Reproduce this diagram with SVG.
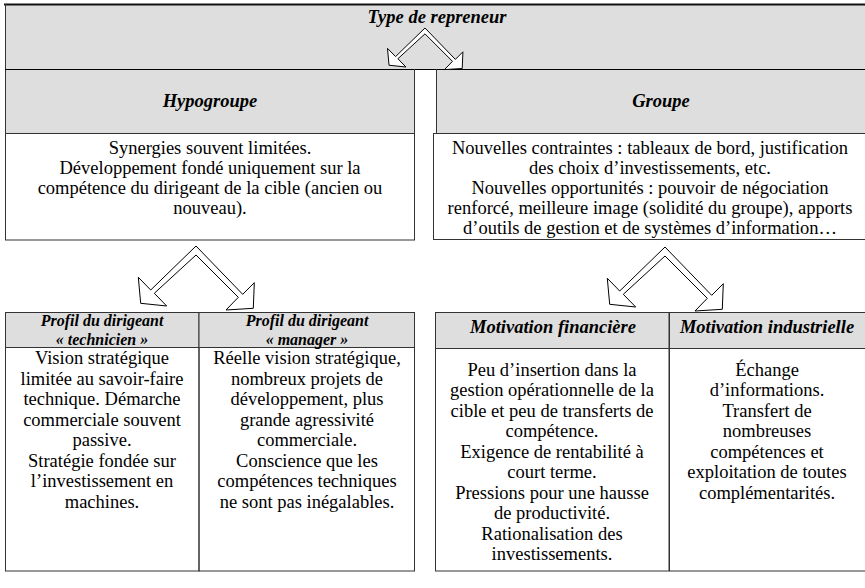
<svg xmlns="http://www.w3.org/2000/svg" width="865" height="588" viewBox="0 0 865 588">
<style>
.bg{fill:#ffffff}
.gray{fill:#dedede;stroke:none}
.box{fill:#ffffff;stroke:#333333;stroke-width:1}
.frame{fill:none;stroke:#333333;stroke-width:1}
.line{stroke:#333333;stroke-width:1;fill:none}
.arrow{fill:#ffffff;stroke:#000000;stroke-width:1;stroke-linejoin:miter}
text{font-family:"Liberation Serif","Times New Roman",serif;font-size:18.5px;fill:#000000;text-anchor:middle}
.h{font-weight:bold;font-style:italic}
.hs{font-size:16px}
</style>
<defs>
<path id="chev" d="M196,246 L242.7,294.3 L254.3,282.7 L253.3,308.3 L226,310 L238.3,297.3 L196,255 L154.3,293.3 L166.7,306 L140.7,303.3 L138.3,277.3 L150.7,290 Z"/>
</defs>
<rect class="bg" x="0" y="0" width="865" height="588"/>

<g id="type-de-repreneur">
<rect class="gray" x="5" y="5" width="860" height="64"/>
<line x1="4" y1="4.5" x2="865" y2="4.5" stroke="#111" stroke-width="2.2"/>
<line class="line" x1="5.5" y1="4" x2="5.5" y2="134"/>
<line x1="5" y1="69.5" x2="865" y2="69.5" stroke="#000" stroke-width="1.2"/>
<text class="h" x="437" y="23">Type de repreneur</text>
</g>

<g id="hypogroupe">
<rect class="gray" x="6" y="70" width="408" height="64"/>
<line class="line" x1="414.5" y1="69" x2="414.5" y2="134"/>
<text class="h" x="210" y="107">Hypogroupe</text>
<rect class="box" x="5.5" y="133.5" width="409" height="106.5"/>
<text x="210" y="154">Synergies souvent limitées.</text>
<text x="210" y="174">Développement fondé uniquement sur la</text>
<text x="210" y="194">compétence du dirigeant de la cible (ancien ou</text>
<text x="210" y="214">nouveau).</text>
</g>

<g id="groupe">
<rect class="gray" x="436" y="70" width="429" height="64"/>
<line class="line" x1="436.5" y1="69" x2="436.5" y2="134"/>
<text class="h" x="661" y="107">Groupe</text>
<rect class="box" x="433.5" y="133.5" width="440" height="106"/>
<text x="650" y="154">Nouvelles contraintes : tableaux de bord, justification</text>
<text x="650" y="174">des choix d’investissements, etc.</text>
<text x="650" y="194">Nouvelles opportunités : pouvoir de négociation</text>
<text x="650" y="214">renforcé, meilleure image (solidité du groupe), apports</text>
<text x="650" y="234">d’outils de gestion et de systèmes d’information…</text>
</g>

<g id="profil-technicien">
<rect class="gray" x="5.5" y="312.5" width="193.5" height="35"/>
<rect class="frame" x="5.5" y="312.5" width="193.5" height="258.5"/>
<line class="line" x1="5.5" y1="347.5" x2="199" y2="347.5"/>
<text class="h hs" x="102" y="326">Profil du dirigeant</text>
<text class="h hs" x="102" y="344.5">« technicien »</text>
<text x="102" y="364">Vision stratégique</text>
<text x="102" y="384.5">limitée au savoir-faire</text>
<text x="102" y="405">technique. Démarche</text>
<text x="102" y="425.5">commerciale souvent</text>
<text x="102" y="446">passive.</text>
<text x="102" y="466.5">Stratégie fondée sur</text>
<text x="102" y="487">l’investissement en</text>
<text x="102" y="507.5">machines.</text>
</g>

<g id="profil-manager">
<rect class="gray" x="199" y="312.5" width="215.5" height="35"/>
<rect class="frame" x="199" y="312.5" width="215.5" height="258.5"/>
<line class="line" x1="199" y1="347.5" x2="414.5" y2="347.5"/>
<text class="h hs" x="307" y="326">Profil du dirigeant</text>
<text class="h hs" x="307" y="344.5">« manager »</text>
<text x="307" y="364">Réelle vision stratégique,</text>
<text x="307" y="384.5">nombreux projets de</text>
<text x="307" y="405">développement, plus</text>
<text x="307" y="425.5">grande agressivité</text>
<text x="307" y="446">commerciale.</text>
<text x="307" y="466.5">Conscience que les</text>
<text x="307" y="487">compétences techniques</text>
<text x="307" y="507.5">ne sont pas inégalables.</text>
</g>

<g id="motivation-financiere">
<rect class="gray" x="435.5" y="312.5" width="233.5" height="36"/>
<rect class="frame" x="435.5" y="312.5" width="233.5" height="258.5"/>
<line class="line" x1="435.5" y1="348.5" x2="669" y2="348.5"/>
<text class="h" x="553" y="333">Motivation financière</text>
<text x="552" y="375.5">Peu d’insertion dans la</text>
<text x="552" y="396">gestion opérationnelle de la</text>
<text x="552" y="416.5">cible et peu de transferts de</text>
<text x="552" y="437">compétence.</text>
<text x="552" y="457.5">Exigence de rentabilité à</text>
<text x="552" y="478">court terme.</text>
<text x="552" y="498.5">Pressions pour une hausse</text>
<text x="552" y="519">de productivité.</text>
<text x="552" y="539.5">Rationalisation des</text>
<text x="552" y="560">investissements.</text>
</g>

<g id="motivation-industrielle">
<rect class="gray" x="669" y="312.5" width="196" height="36"/>
<line class="line" x1="669" y1="312.5" x2="865" y2="312.5"/>
<line class="line" x1="669" y1="348.5" x2="865" y2="348.5"/>
<line class="line" x1="669" y1="571" x2="865" y2="571"/>
<line class="line" x1="669.5" y1="312.5" x2="669.5" y2="571"/>
<text class="h" x="767" y="333">Motivation industrielle</text>
<text x="767" y="375.5">Échange</text>
<text x="767" y="396">d’informations.</text>
<text x="767" y="416.5">Transfert de</text>
<text x="767" y="437">nombreuses</text>
<text x="767" y="457.5">compétences et</text>
<text x="767" y="478">exploitation de toutes</text>
<text x="767" y="498.5">complémentarités.</text>
</g>

<g id="connectors">
<use href="#chev" class="arrow" transform="translate(425,28) scale(0.65) translate(-196,-246)" style="stroke-width:1.5"/>
<use href="#chev" class="arrow"/>
<use href="#chev" class="arrow" transform="translate(469,1)"/>
</g>
</svg>
